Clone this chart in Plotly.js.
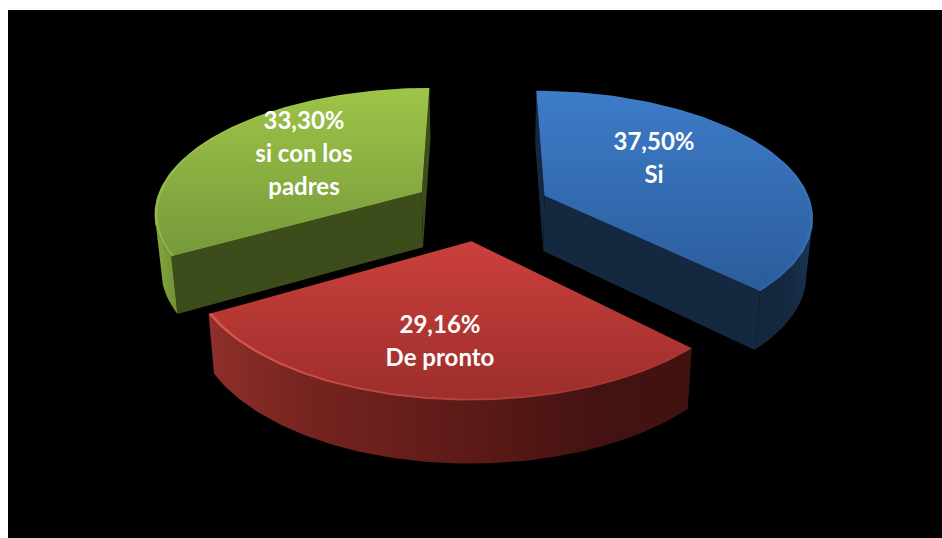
<!DOCTYPE html>
<html>
<head>
<meta charset="utf-8">
<script src="https://cdn.plot.ly/plotly-3.0.1.min.js"></script>
<style>html,body{margin:0;padding:0;background:#fff}#chart{width:942px;height:538px}</style>
</head>
<body>
<div id="chart"></div>
<script>
// Data
var categories = ['Si', 'De pronto', 'si con los padres'];
var values = [37.5, 29.16, 33.3];
var labelLines = [['37,50%', 'Si'], ['29,16%', 'De pronto'], ['33,30%', 'si con los', 'padres']];
var labelCentreX = [654, 440, 304];
var labelFirstLineY = [144, 327, 123];

// Styles per slice
var topColours = [['#3d7cc8', '#2b5c9b'], ['#cb403c', '#9c2e2b'], ['#9ec448', '#76993a']];
var radialColours = ['#14283f', '#3a120f', '#3d4c1b'];
var wallColours = [
  [[0, '#13263c'], [0.6, '#14293f'], [1, '#1a3555']],
  [[0, '#8e2f2a'], [0.2, '#772420'], [0.55, '#5c1a17'], [0.8, '#441311'], [1, '#3f1210']],
  [[0, '#86aa3e'], [1, '#6f9034']]
];
var rimColours = [
  [[0, 'rgba(90,150,220,0.05)'], [1, 'rgba(90,150,220,0.15)']],
  [[0, 'rgba(235,100,90,0.7)'], [0.5, 'rgba(225,90,80,0.45)'], [1, 'rgba(200,70,60,0.05)']],
  [[0, 'rgba(190,225,110,0.3)'], [1, 'rgba(190,225,110,0.02)']]
];
var drawOrder = [0, 2, 1];

// Projection of the tilted disc
var cam = {x0: 481, horizon: -620, scaleX: 268, scaleY: 828, k: 0.15, explode: 0.26, startDeg: 0};
function project(X, Y) {
  var D = 1 + cam.k * Y;
  return [cam.x0 + cam.scaleX * X / D, cam.horizon + cam.scaleY / D];
}
function drop(p) {
  return [cam.x0 + (p[0] - cam.x0) * 0.98, p[1] + 47.6 + 0.0386 * p[1]];
}

var total = values.reduce(function (a, b) { return a + b; }, 0);
var traces = [];
function poly(pts, fillProps) {
  var t = {
    type: 'scatter', mode: 'lines', hoverinfo: 'skip', showlegend: false,
    x: pts.map(function (p) { return p[0]; }),
    y: pts.map(function (p) { return p[1]; }),
    line: {width: 0}, fill: 'toself'
  };
  for (var k in fillProps) t[k] = fillProps[k];
  return t;
}
function ramp(a, b) { return [[0, a], [1, b]]; }

var starts = [], acc = cam.startDeg;
values.forEach(function (v) { starts.push(acc); acc += v / total * 360; });

drawOrder.forEach(function (i) {
  var a0 = starts[i] * Math.PI / 180;
  var a1 = (starts[i] + values[i] / total * 360) * Math.PI / 180;
  var mid = (a0 + a1) / 2;
  var ax = cam.explode * Math.sin(mid), ay = cam.explode * Math.cos(mid);
  var apex = project(ax, ay);
  var arc = [], inner = [];
  var steps = 90;
  for (var n = 0; n <= steps; n++) {
    var a = a0 + (a1 - a0) * n / steps;
    arc.push(project(ax + Math.sin(a), ay + Math.cos(a)));
    inner.push(project(ax + 0.99 * Math.sin(a), ay + 0.99 * Math.cos(a)));
  }
  // keep only the part of the arc facing the viewer, from its horizontal extreme
  var iMin = 0, iMax = 0;
  arc.forEach(function (p, j) {
    if (p[0] < arc[iMin][0]) iMin = j;
    if (p[0] > arc[iMax][0]) iMax = j;
  });
  var front = arc;
  if (iMax > 0 && iMax < steps) front = arc.slice(iMax);
  else if (iMin > 0 && iMin < steps) front = arc.slice(0, iMin + 1);
  var frontLow = front.map(drop);
  var apexLow = drop(apex);
  var first = arc[0], last = arc[arc.length - 1];
  // radial walls
  traces.push(poly([apex, first, drop(first), apexLow, apex], {fillcolor: radialColours[i]}));
  traces.push(poly([apex, last, drop(last), apexLow, apex], {fillcolor: radialColours[i]}));
  // outer wall
  traces.push(poly(front.concat(frontLow.slice().reverse()).concat([front[0]]),
    {fillgradient: {type: 'horizontal', colorscale: wallColours[i]}}));
  // top face (the y axis runs downwards, so the ramp runs from screen bottom to screen top)
  traces.push(poly([apex].concat(arc).concat([apex]),
    {fillgradient: {type: 'vertical', colorscale: ramp(topColours[i][1], topColours[i][0])}}));
  // rim highlight
  traces.push(poly(arc.concat(inner.slice().reverse()).concat([arc[0]]),
    {fillgradient: {type: 'horizontal', colorscale: rimColours[i]}}));
});

// Labels
labelLines.forEach(function (lines, i) {
  traces.push({
    type: 'scatter', mode: 'text', hoverinfo: 'skip', showlegend: false,
    x: lines.map(function () { return labelCentreX[i]; }),
    y: lines.map(function (_, j) { return labelFirstLineY[i] + j * 33; }),
    text: lines, textposition: 'middle center',
    textfont: {family: 'Lato, "Open Sans", sans-serif', size: 24, color: '#ffffff', weight: 700}
  });
});

var layout = {
  width: 942, height: 538,
  margin: {l: 8, r: 0, t: 10, b: 0},
  paper_bgcolor: '#ffffff', plot_bgcolor: '#000000',
  xaxis: {range: [8, 942], visible: false, fixedrange: true},
  yaxis: {range: [538, 10], visible: false, fixedrange: true},
  showlegend: false, hovermode: false
};
Plotly.newPlot('chart', traces, layout, {displayModeBar: false, staticPlot: true});
</script>
</body>
</html>
